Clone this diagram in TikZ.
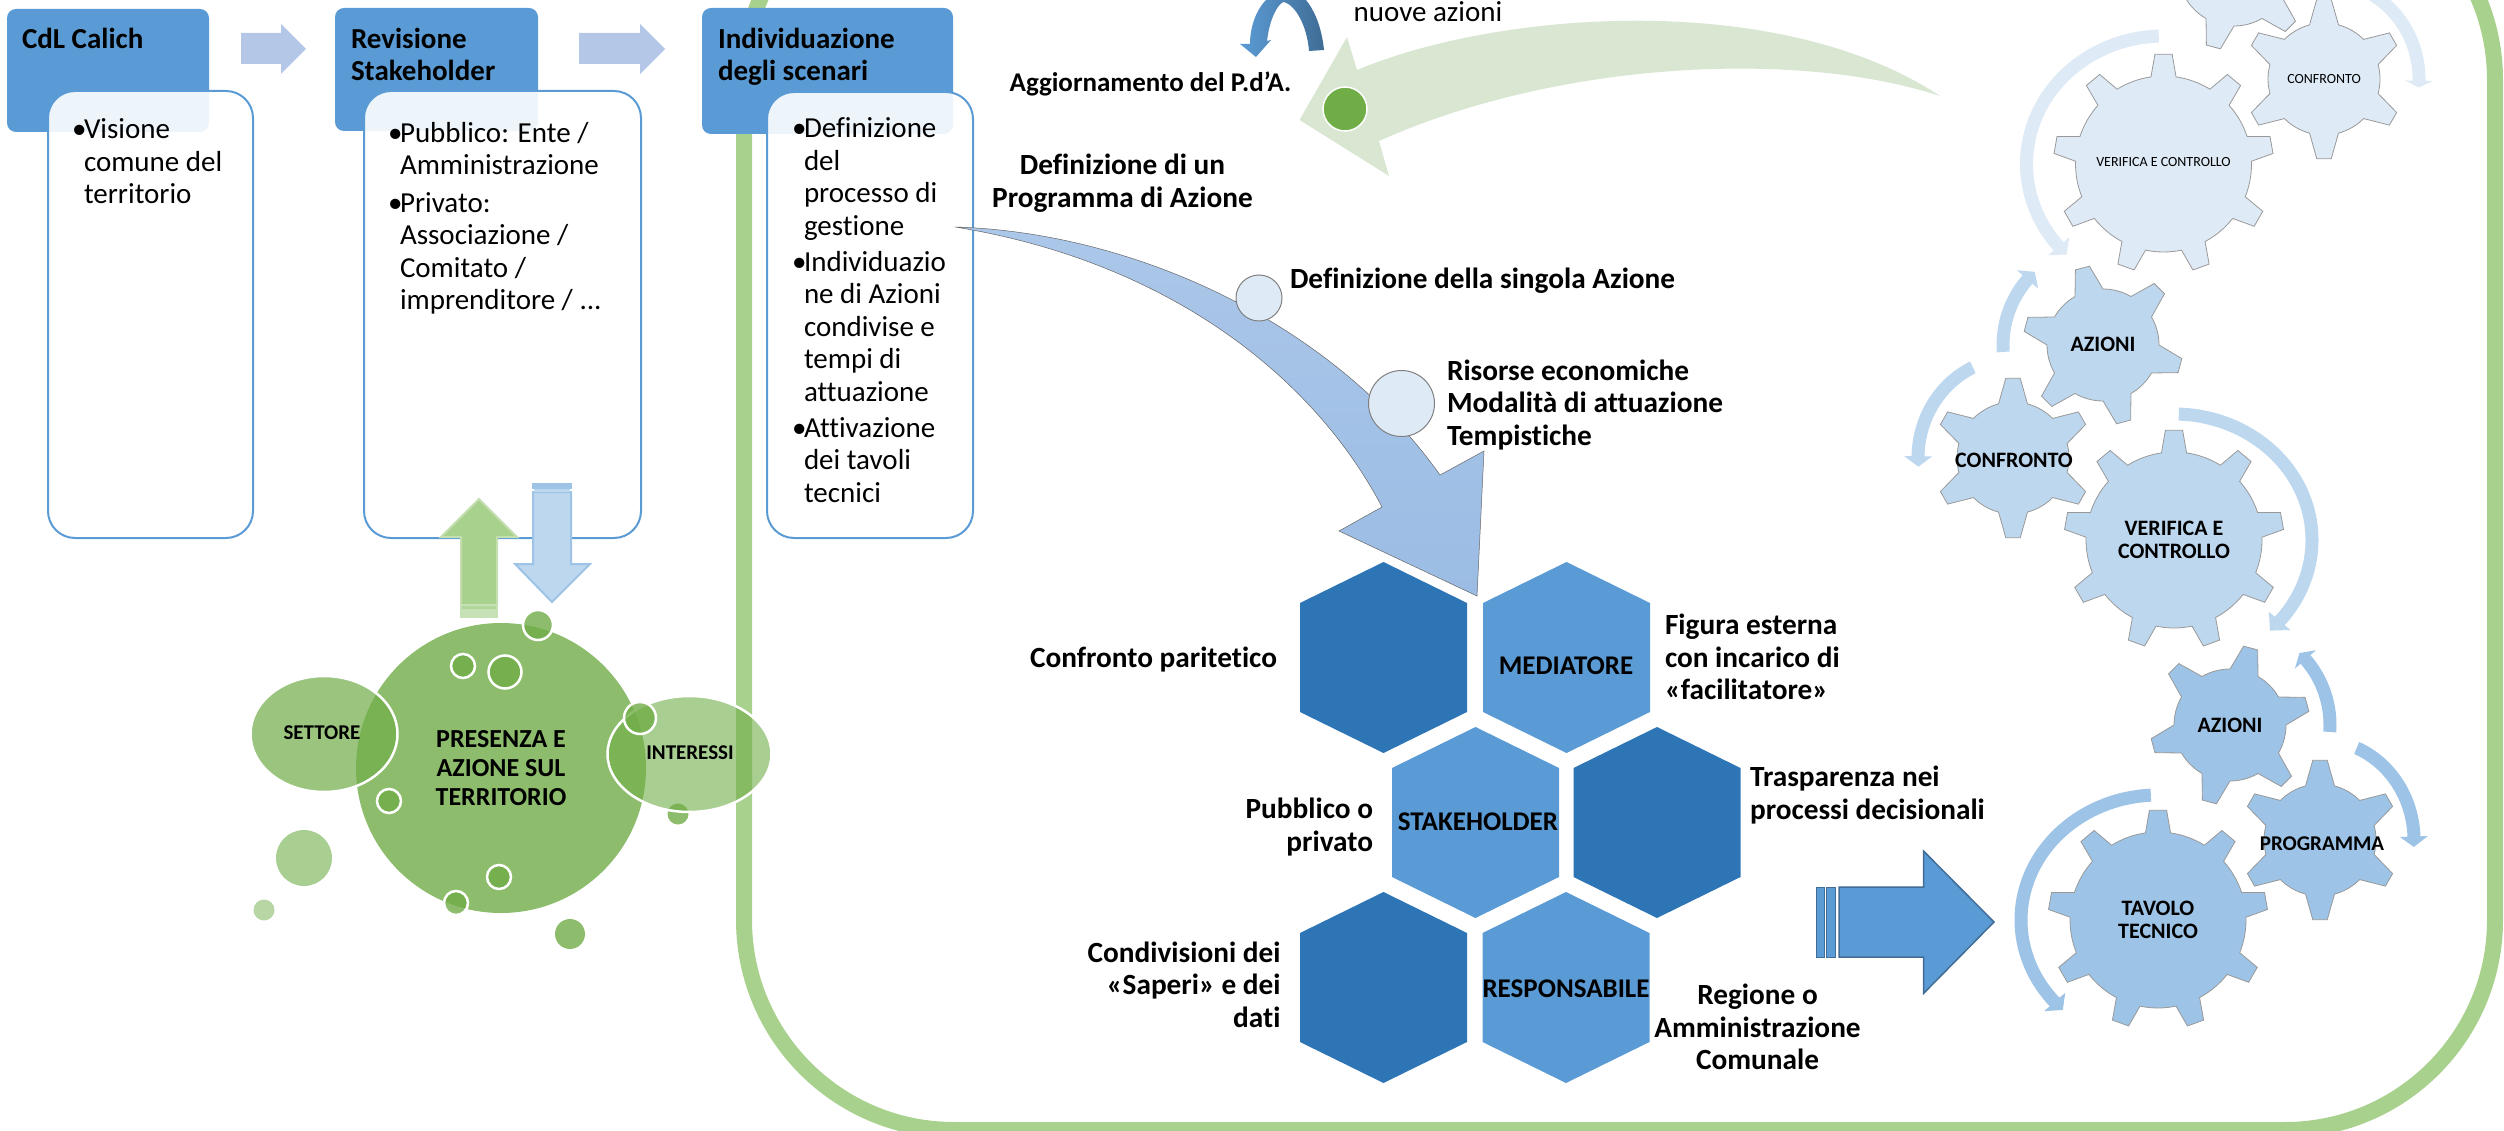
\documentclass[tikz,border=0pt]{standalone}
\usepackage{fontspec}
\usetikzlibrary{shapes.geometric}
\setmainfont[Ligatures=NoCommon]{Carlito}
\definecolor{hexdark}{HTML}{2E75B6}
\definecolor{hexmid}{HTML}{5B9BD5}
\definecolor{framegreen}{HTML}{A9D18E}
\definecolor{leaf}{HTML}{70AD47}
\definecolor{gearlight}{HTML}{DEEAF6}
\definecolor{gearmid}{HTML}{BDD7EE}
\definecolor{geardark}{HTML}{9DC3E6}
\definecolor{stepblue}{HTML}{B4C7E7}
\definecolor{palegreen}{HTML}{D9E6D2}
\definecolor{progtop}{HTML}{ABC7E9}
\definecolor{progbottom}{HTML}{9BBCE4}
\newcommand{\bul}{\makebox[12pt][l]{•}}
\newcommand{\ind}{\hspace*{12pt}}

\begin{document}
\begin{tikzpicture}[x=1pt,y=1pt,
    txt/.style={inner sep=0,outer sep=0},
    plain/.style={txt,align=left,font=\fontsize{29}{32.5}\selectfont},
    bold/.style={txt,font=\bfseries\fontsize{29.3}{32.5}\selectfont},
    hexlabel/.style={txt,font=\bfseries\fontsize{27}{32}\selectfont},
    headtxt/.style={txt,align=left,font=\bfseries\fontsize{29}{32}\selectfont},
    gearsmall/.style={txt,font=\fontsize{14}{16}\selectfont},
    gearbold/.style={txt,align=center,font=\bfseries\fontsize{22}{23}\selectfont},
    bubbletxt/.style={txt,align=center,font=\bfseries\fontsize{21}{29}\selectfont},
    headbox/.style={txt,anchor=north west,fill=hexmid,rounded corners=9pt},
    bodybox/.style={txt,anchor=north west,draw=hexmid,line width=2pt,fill=white,
                    fill opacity=.9,rounded corners=27pt},
    bubble/.style={txt,circle,minimum size=#1,fill=leaf,fill opacity=.8,draw=white,line width=2.5pt},
    spot/.style={txt,circle,minimum size=#1,fill=leaf,fill opacity=.8},
    lobe/.style={txt,ellipse,draw=white,line width=2.5pt,fill=leaf},
    pics/gear/.style n args={6}{code={
      \path[pic actions,draw=gray!80,line width=.8pt] ({#4-#5}:#2)
        \foreach \k in {1,...,#1}{
          -- ({#4+(\k-1)*360/#1-#6}:#3) -- ({#4+(\k-1)*360/#1+#6}:#3) -- ({#4+(\k-1)*360/#1+#5}:#2)
          arc[start angle={#4+(\k-1)*360/#1+#5},end angle={#4+\k*360/#1-#5},radius=#2]
        } -- cycle;
    }},
    pics/ringarrow/.style n args={5}{code={
      \path[pic actions] (#3:{#1+6.5} and {#2+6.5})
        arc[start angle=#3,end angle=#4,x radius=#1+6.5,y radius=#2+6.5]
        -- (#4:{#1+14} and {#2+14}) -- (#5:#1 and #2) -- (#4:{#1-14} and {#2-14})
        -- (#4:{#1-6.5} and {#2-6.5})
        arc[start angle=#4,end angle=#3,x radius=#1-6.5,y radius=#2-6.5] -- cycle;
    }},
    pics/hexa/.style={code={
      \path[pic actions] (0,95.5) -- (83.5,54.5) -- (83.5,-54.5) -- (0,-95.5)
        -- (-83.5,-54.5) -- (-83.5,54.5) -- cycle;
    }}]
  \useasboundingbox (0,0) rectangle (2504,-1131);
  \clip (0,0) rectangle (2504,-1131);

  % frame
  \draw[framegreen,line width=16pt,rounded corners=210pt] (744,130) rectangle (2495,-1130);

  % three columns
  \node[headbox,minimum width=202pt,minimum height=123pt] (headcdl) at (7,-9) {};
  \node[headbox,minimum width=203pt,minimum height=123pt] (headrev) at (335,-8) {};
  \node[headbox,minimum width=251pt,minimum height=126pt] (headsce) at (702,-8) {};
  \node[bodybox,minimum width=205pt,minimum height=447pt] (bodycdl) at (48,-91) {};
  \node[bodybox,minimum width=277pt,minimum height=447pt] (bodyrev) at (364,-91) {};
  \node[bodybox,minimum width=206pt,minimum height=446pt] (bodysce) at (767,-92) {};
  \node[headtxt,anchor=north west] (titlecdl) at (22,-28) {CdL Calich};
  \node[headtxt,anchor=north west] (titlerev) at (351,-28) {Revisione\\Stakeholder};
  \node[headtxt,anchor=north west] (titlesce) at (718,-28) {Individuazione\\degli scenari};
  \node[plain,anchor=north west] (txtcdl) at (72,-119) {\bul Visione\\\ind comune del\\\ind territorio};
  \node[plain,anchor=north west] (txtrev) at (388,-122) {\bul Pubblico: Ente /\\\ind Amministrazione\\[5pt]
    \bul Privato:\\\ind Associazione /\\\ind Comitato /\\\ind imprenditore / ...};
  \node[plain,anchor=north west] (txtsce) at (792,-118) {\bul Definizione\\\ind del\\\ind processo di\\\ind gestione\\[3.5pt]
    \bul Individuazio\\\ind ne di Azioni\\\ind condivise e\\\ind tempi di\\\ind attuazione\\[3.5pt]
    \bul Attivazione\\\ind dei tavoli\\\ind tecnici};

  \fill[stepblue] (241,-33) -- (281,-33) -- (281,-24) -- (306,-49) -- (281,-74) -- (281,-64) -- (241,-64) -- cycle;
  \fill[stepblue] (579,-33) -- (640,-33) -- (640,-24) -- (665,-49) -- (640,-74) -- (640,-64) -- (579,-64) -- cycle;

  % up and down arrows
  \filldraw[fill=framegreen,draw=framegreen!70!white,line width=2pt] (461,-606) -- (461,-537) -- (441,-537) -- (479,-499)
    -- (517,-537) -- (497,-537) -- (497,-606) -- cycle;
  \fill[framegreen!65!white] (460,-604) rectangle (498,-618);
  \fill[framegreen!90!white] (462,-606) rectangle (496,-609);
  \filldraw[fill=gearmid,draw=geardark,line width=2pt] (533,-492) -- (533,-564) -- (515,-564) -- (552,-602)
    -- (590,-564) -- (571,-564) -- (571,-492) -- cycle;
  \fill[geardark] (532,-483) rectangle (572,-489);
  \fill[gearmid] (534,-489) rectangle (570,-492);

  % bubbles
  \node[spot=21pt] (dotfive) at (678,-814) {};
  \node[spot=56pt,fill opacity=.6] (dotlarge) at (304,-858) {};
  \node[spot=21pt,fill opacity=.5] (dotsmall) at (264,-910) {};
  \node[spot=30pt] (dotlow) at (570,-934) {};
  \node[spot=290pt] (presenza) at (501,-768) {};
  \node[lobe,fill opacity=.7,minimum width=147pt,minimum height=116pt] (settore) at (324,-734) {};
  \node[lobe,fill opacity=.6,minimum width=164pt,minimum height=116pt] (interessi) at (689.5,-754) {};
  \foreach \name/\px/\py/\size in {dota/538/625/30,dotb/463/666/24,dotc/505/672/33,dotd/640/718/32,dote/389/801/24,dotf/499/877/24,dotg/456/903/24}{
    \node[bubble=\size pt] (\name) at (\px,-\py) {};
  }
  \node[txt,align=center,font=\bfseries\fontsize{26}{29}\selectfont] (lblpresenza) at (501,-768) {PRESENZA E\\AZIONE SUL\\TERRITORIO};
  \node[bubbletxt] (lblsettore) at (322,-733) {SETTORE};
  \node[bubbletxt] (lblinteressi) at (690,-753) {INTERESSI};

  % top arrows
  \shade[left color=hexmid,right color=hexmid!70!black] (1324,-50) .. controls (1320,-10) and (1300,15) .. (1283,10)
    .. controls (1262,5) and (1250,-20) .. (1250,-44) -- (1240,-44) -- (1256,-57) -- (1271,-40) -- (1267,-41)
    .. controls (1270,-15) and (1280,-2) .. (1284,-2) .. controls (1295,-5) and (1307,-25) .. (1309,-51) -- cycle;
  \node[txt,font=\fontsize{29}{33}\selectfont] (lblnuove) at (1428,-12) {nuove azioni};
  \fill[palegreen] (1940,-96) .. controls (1800,-50) and (1560,-60) .. (1379,-141)
    -- (1389,-176) -- (1299.5,-120) -- (1347,-37) -- (1357,-70) .. controls (1500,-10) and (1780,10) .. (1940,-96) -- cycle;
  \node[txt,circle,minimum size=44pt,fill=leaf,draw=white,line width=1.5pt] (dotnew) at (1345,-109) {};
  \node[hexlabel] (lblaggiorna) at (1150.5,-84) {Aggiornamento del P.d’A.};

  % programme arrow
  \shade[top color=progtop,bottom color=progbottom,draw=gray!80!black,line width=.5pt]
    (955,-227) .. controls (1130,-232) and (1330,-320) .. (1440,-475) -- (1484,-451) -- (1477,-596) -- (1339,-531) -- (1382,-507)
    .. controls (1310,-370) and (1160,-260) .. (955,-227) -- cycle;
  \node[txt,circle,minimum size=46pt,fill=gearlight,draw=gray,line width=1pt] (dotone) at (1259,-298) {};
  \node[txt,circle,minimum size=66pt,fill=gearlight,draw=gray,line width=1pt] (dottwo) at (1401.5,-403.5) {};
  \node[bold,align=center] (lblprogramma) at (1122.5,-183) {Definizione di un\\Programma di Azione};
  \node[bold,anchor=west] (lblsingola) at (1290,-281) {Definizione della singola Azione};
  \node[bold,align=left,anchor=west] (lblrisorse) at (1447,-405) {Risorse economiche\\Modalità di attuazione\\Tempistiche};

  % hexagons
  \foreach \col/\px/\py in {hexdark/1383.5/657.5,hexmid/1566.5/657.5,hexmid/1475.5/822.5,hexdark/1657/822.5,hexdark/1383.5/987.5,hexmid/1566/987.5}{
    \pic[fill=\col] at (\px,-\py) {hexa};
  }
  \node[hexlabel] (lblmediatore) at (1566,-665.5) {MEDIATORE};
  \node[hexlabel] (lblstake) at (1478,-822) {STAKEHOLDER};
  \node[hexlabel] (lblresp) at (1566,-988.5) {RESPONSABILE};
  \node[bold,anchor=east] (lblconfronto) at (1277,-659.5) {Confronto paritetico};
  \node[bold,align=left,anchor=west] (lblfigura) at (1665,-657) {Figura esterna\\con incarico di\\«facilitatore»};
  \node[bold,align=right,anchor=east] (lblpubblico) at (1373,-827) {Pubblico o\\privato};
  \node[bold,align=left,anchor=west] (lbltrasp) at (1750,-795) {Trasparenza nei\\processi decisionali};
  \node[bold,align=right,anchor=east] (lblsaperi) at (1280.5,-984.5) {Condivisioni dei\\«Saperi» e dei\\dati};
  \node[bold,align=center] (lblregione) at (1757.5,-1027) {Regione o\\Amministrazione\\Comunale};

  % block arrow
  \filldraw[fill=hexmid,draw=hexmid!70!black,line width=1.5pt] (1839,-887) -- (1923.5,-887) -- (1923.5,-851) -- (1994,-922)
    -- (1923.5,-993.5) -- (1923.5,-957) -- (1839,-957) -- cycle;
  \filldraw[fill=hexmid,draw=hexmid!70!black,line width=1pt] (1816,-887) rectangle (1824,-957);
  \filldraw[fill=hexmid,draw=hexmid!70!black,line width=1pt] (1826,-887) rectangle (1835.5,-957);

  % gears, three turns of the cycle
  \pic[fill=gearlight] at (2234,30) {gear={6}{56}{80}{15}{15}{5.2}};
  \foreach \col/\turn/\gx/\gy/\gt/\gr/\grr/\ga/\gb in {
      gearlight/90/2324/79/6/56/80/15/5.2,
      gearlight/90/2163.5/164/9/88/110/8.2/4.5,
      gearmid/-15/2103/345/6/56/80/15/5.2,
      gearmid/90/2013/458/6/56/80/15/5.2,
      gearmid/90/2174/540/9/88/110/8.2/4.5,
      geardark/15/2230/725/6/56/80/15/5.2,
      geardark/90/2320/840/6/56/80/15/5.2,
      geardark/90/2158/920/9/88/110/8.2/4.5}{
    \pic[fill=\col] at (\gx,-\gy) {gear={\gt}{\gr}{\grr}{\turn}{\ga}{\gb}};
  }
  \pic[fill=gearlight] at (2324,-79) {ringarrow={95}{98}{60}{-1}{-5}};
  \pic[fill=gearlight] at (2163.5,-164) {ringarrow={137}{128}{92}{220}{225}};
  \pic[fill=gearmid] at (2103,-345) {ringarrow={100}{100}{184}{139}{133}};
  \pic[fill=gearmid] at (2013,-458) {ringarrow={95}{100}{115}{179}{185}};
  \pic[fill=gearmid] at (2174,-540) {ringarrow={138}{126}{88}{-40}{-46}};
  \pic[fill=geardark] at (2230,-725) {ringarrow={100}{100}{-4}{41}{46}};
  \pic[fill=geardark] at (2320,-840) {ringarrow={94}{100}{67}{2}{-4}};
  \pic[fill=geardark] at (2158,-920) {ringarrow={137}{125}{93}{221}{226}};

  \node[gearsmall] (gearconfronto) at (2324,-79) {CONFRONTO};
  \node[gearsmall] (gearverifica) at (2163.5,-162) {VERIFICA E CONTROLLO};
  \node[gearbold] (gearazioni) at (2103,-344) {AZIONI};
  \node[gearbold] (gearconfrontob) at (2014,-460) {CONFRONTO};
  \node[gearbold] (gearverificab) at (2174,-540) {VERIFICA E\\CONTROLLO};
  \node[gearbold] (gearazionib) at (2230,-725) {AZIONI};
  \node[gearbold,font=\bfseries\fontsize{21}{23}\selectfont] (gearprogramma) at (2322,-844) {PROGRAMMA};
  \node[gearbold] (geartavolo) at (2158,-920) {TAVOLO\\TECNICO};
\end{tikzpicture}
\end{document}
